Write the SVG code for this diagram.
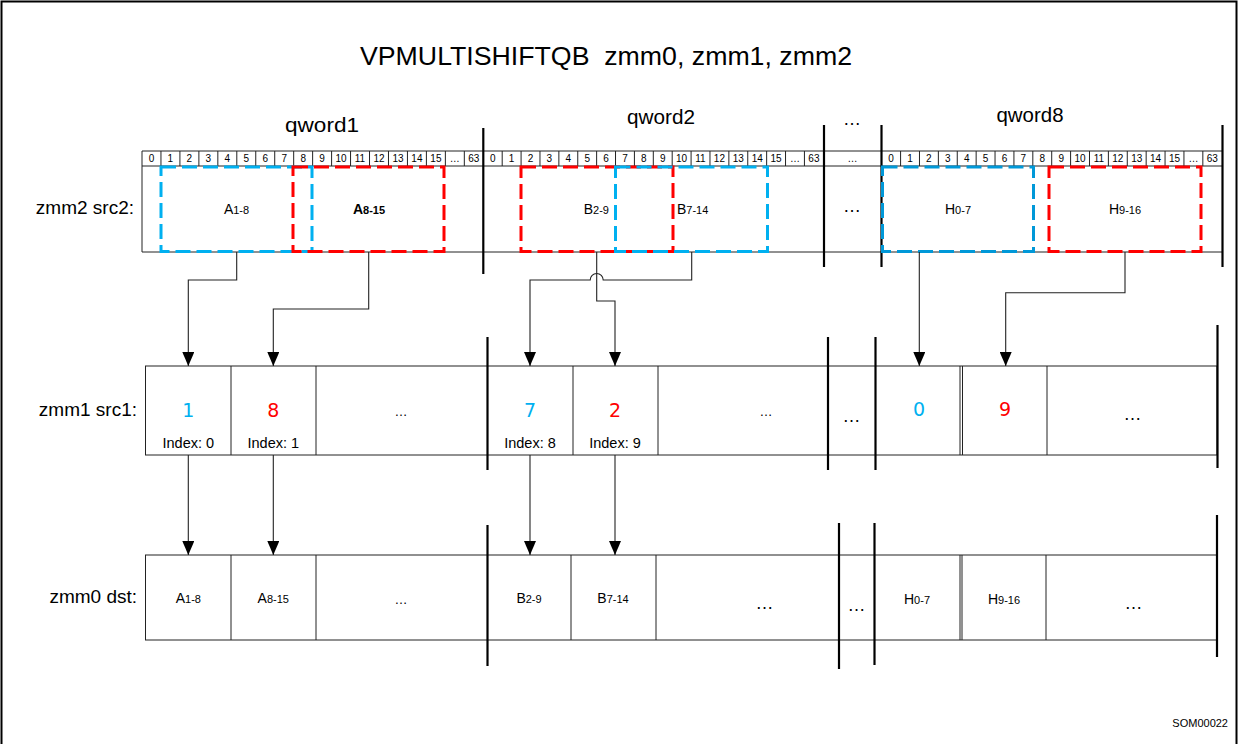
<svg xmlns="http://www.w3.org/2000/svg" width="1238" height="744" viewBox="0 0 1238 744">
<style>
  text { font-family: "Liberation Sans", Arial, sans-serif; fill: #000; }
  .bit { font-size: 10px; text-anchor: middle; }
  .reg { font-size: 19px; text-anchor: end; }
  .lbl { font-size: 14px; text-anchor: middle; }
  .sub { font-size: 11px; }
  .num { font-family: "DejaVu Sans", sans-serif; font-size: 19px; text-anchor: middle; }
  .idx { font-size: 14.5px; text-anchor: middle; }
  .dots { font-size: 13px; text-anchor: middle; }
  .bigdots { font-size: 18px; text-anchor: middle; letter-spacing: 1px; }
  .thin { stroke: #222; stroke-width: 1; fill: none; }
  .thick { stroke: #000; stroke-width: 2.2; fill: none; }
  .blue { stroke: #00B0F0; stroke-width: 3; fill: none; stroke-dasharray: 15 6; }
  .blue8 { stroke: #0098D8; stroke-width: 3; fill: none; stroke-dasharray: 15 6; }
  .red { stroke: #FF0000; stroke-width: 3; fill: none; stroke-dasharray: 15 6; }
  .conn { stroke: #222; stroke-width: 1.1; fill: none; marker-end: url(#arr); }
</style>
<defs>
  <marker id="arr" markerUnits="userSpaceOnUse" markerWidth="12" markerHeight="14" viewBox="0 0 12 14" refX="6" refY="14" orient="0">
    <path d="M0 0 L12 0 L6 14 Z" fill="#000"/>
  </marker>
</defs>
<rect x="0" y="0" width="1238" height="744" fill="#fff"/>
<rect x="1.5" y="1.5" width="1235" height="760" fill="none" stroke="#000" stroke-width="2"/>

<g id="title">
  <text x="606" y="65" font-size="26" text-anchor="middle" textLength="492" lengthAdjust="spacingAndGlyphs" xml:space="preserve" style="white-space:pre">VPMULTISHIFTQB  zmm0, zmm1, zmm2</text>
  <text x="322" y="132" font-size="20" text-anchor="middle" textLength="74" lengthAdjust="spacingAndGlyphs">qword1</text>
  <text x="661" y="124" font-size="20" text-anchor="middle" textLength="68" lengthAdjust="spacingAndGlyphs">qword2</text>
  <text x="852" y="125" font-size="18" text-anchor="middle">…</text>
  <text x="1030" y="122" font-size="20" text-anchor="middle" textLength="67" lengthAdjust="spacingAndGlyphs">qword8</text>
</g>

<g id="reg-labels">
  <text class="reg" x="134" y="214">zmm2 src2:</text>
  <text class="reg" x="137" y="416">zmm1 src1:</text>
  <text class="reg" x="137" y="603">zmm0 dst:</text>
  <text x="1228" y="727" font-size="11" text-anchor="end">SOM00022</text>
</g>

<g id="src2">
  <line class="thin" x1="142" y1="151" x2="1222" y2="151"/>
  <line class="thin" x1="142" y1="166" x2="1222" y2="166"/>
  <line class="thin" x1="142" y1="252" x2="1222" y2="252"/>
  <line class="thin" x1="142" y1="151" x2="142" y2="252"/>
  <path class="thin" d="M160.96 151V166M179.92 151V166M198.88 151V166M217.84 151V166M236.8 151V166M255.76 151V166M274.72 151V166M293.68 151V166M312.64 151V166M331.6 151V166M350.56 151V166M369.52 151V166M388.48 151V166M407.44 151V166M426.4 151V166M445.36 151V166M464.32 151V166"/>
  <path class="thin" d="M502.19 151V166M521.08 151V166M539.97 151V166M558.86 151V166M577.75 151V166M596.64 151V166M615.53 151V166M634.42 151V166M653.31 151V166M672.2 151V166M691.09 151V166M709.98 151V166M728.87 151V166M747.76 151V166M766.65 151V166M785.54 151V166M804.43 151V166"/>
  <path class="thin" d="M900.59 151V166M919.48 151V166M938.37 151V166M957.26 151V166M976.15 151V166M995.04 151V166M1013.93 151V166M1032.82 151V166M1051.71 151V166M1070.6 151V166M1089.49 151V166M1108.38 151V166M1127.27 151V166M1146.16 151V166M1165.05 151V166M1183.94 151V166M1202.83 151V166"/>
  <g id="bits-q1">
    <text class="bit" x="151.5" y="162">0</text><text class="bit" x="170.4" y="162">1</text><text class="bit" x="189.4" y="162">2</text><text class="bit" x="208.4" y="162">3</text><text class="bit" x="227.3" y="162">4</text><text class="bit" x="246.3" y="162">5</text><text class="bit" x="265.2" y="162">6</text><text class="bit" x="284.2" y="162">7</text><text class="bit" x="303.2" y="162">8</text><text class="bit" x="322.1" y="162">9</text><text class="bit" x="341.1" y="162">10</text><text class="bit" x="360" y="162">11</text><text class="bit" x="379" y="162">12</text><text class="bit" x="398" y="162">13</text><text class="bit" x="416.9" y="162">14</text><text class="bit" x="435.9" y="162">15</text><text class="bit" x="454.8" y="162">…</text><text class="bit" x="473.8" y="162">63</text>
  </g>
  <g id="bits-q2">
    <text class="bit" x="492.7" y="162">0</text><text class="bit" x="511.6" y="162">1</text><text class="bit" x="530.5" y="162">2</text><text class="bit" x="549.4" y="162">3</text><text class="bit" x="568.3" y="162">4</text><text class="bit" x="587.2" y="162">5</text><text class="bit" x="606.1" y="162">6</text><text class="bit" x="625" y="162">7</text><text class="bit" x="643.9" y="162">8</text><text class="bit" x="662.8" y="162">9</text><text class="bit" x="681.6" y="162">10</text><text class="bit" x="700.5" y="162">11</text><text class="bit" x="719.4" y="162">12</text><text class="bit" x="738.3" y="162">13</text><text class="bit" x="757.2" y="162">14</text><text class="bit" x="776.1" y="162">15</text><text class="bit" x="795" y="162">…</text><text class="bit" x="813.9" y="162">63</text>
  </g>
  <text class="bit" x="852.5" y="162">…</text>
  <g id="bits-q8">
    <text class="bit" x="891.1" y="162">0</text><text class="bit" x="910" y="162">1</text><text class="bit" x="928.9" y="162">2</text><text class="bit" x="947.8" y="162">3</text><text class="bit" x="966.7" y="162">4</text><text class="bit" x="985.6" y="162">5</text><text class="bit" x="1004.5" y="162">6</text><text class="bit" x="1023.4" y="162">7</text><text class="bit" x="1042.3" y="162">8</text><text class="bit" x="1061.2" y="162">9</text><text class="bit" x="1080" y="162">10</text><text class="bit" x="1098.9" y="162">11</text><text class="bit" x="1117.8" y="162">12</text><text class="bit" x="1136.7" y="162">13</text><text class="bit" x="1155.6" y="162">14</text><text class="bit" x="1174.5" y="162">15</text><text class="bit" x="1193.4" y="162">…</text><text class="bit" x="1212.3" y="162">63</text>
  </g>
  <text class="bigdots" x="852.5" y="212">…</text>
  <line class="thick" x1="483.3" y1="128" x2="483.3" y2="274"/>
  <line class="thick" x1="824" y1="125" x2="824" y2="267"/>
  <line class="thick" x1="881.5" y1="125" x2="881.5" y2="267"/>
  <line class="thick" x1="1222.5" y1="125" x2="1222.5" y2="267"/>
</g>

<g id="src2-fields">
  <rect class="blue" x="161" y="167" width="151" height="84.5"/>
  <rect class="red" x="293" y="167" width="151" height="84.5"/>
  <rect class="red" x="521" y="167" width="152" height="84.5"/>
  <rect class="blue" x="615.5" y="167" width="152" height="84.5"/>
  <rect class="blue8" x="882.5" y="167" width="151" height="84.5"/>
  <rect class="red" x="1049" y="167" width="152" height="84.5"/>
  <text class="lbl" x="236.5" y="214">A<tspan class="sub">1-8</tspan></text>
  <text class="lbl" x="369" y="214" font-weight="bold">A<tspan class="sub">8-15</tspan></text>
  <text class="lbl" x="609" y="214" style="text-anchor:end">B<tspan class="sub">2-9</tspan></text>
  <text class="lbl" x="677" y="214" style="text-anchor:start">B<tspan class="sub">7-14</tspan></text>
  <text class="lbl" x="958" y="214">H<tspan class="sub">0-7</tspan></text>
  <text class="lbl" x="1125" y="214">H<tspan class="sub">9-16</tspan></text>
</g>

<g id="src1">
  <rect class="thin" x="145.5" y="366" width="1071.5" height="89"/>
  <path class="thin" d="M231 366V455M316 366V455M573 366V455M658 366V455M960 366V455M962.5 366V455M1047 366V455"/>
  <line class="thick" x1="487.5" y1="337" x2="487.5" y2="470"/>
  <line class="thick" x1="828" y1="337" x2="828" y2="470"/>
  <line class="thick" x1="875.5" y1="337" x2="875.5" y2="470"/>
  <line class="thick" x1="1217.5" y1="325" x2="1217.5" y2="468"/>
  <text class="num" x="188.3" y="417" style="fill:#00B0F0">1</text>
  <text class="num" x="273.3" y="417" style="fill:#FF0000">8</text>
  <text class="num" x="530" y="417" style="fill:#00B0F0">7</text>
  <text class="num" x="615" y="417" style="fill:#FF0000">2</text>
  <text class="num" x="919" y="416" style="fill:#00B0F0">0</text>
  <text class="num" x="1005" y="416" style="fill:#FF0000">9</text>
  <text class="idx" x="188.3" y="448">Index: 0</text>
  <text class="idx" x="273.3" y="448">Index: 1</text>
  <text class="idx" x="530" y="448">Index: 8</text>
  <text class="idx" x="615" y="448">Index: 9</text>
  <text class="dots" x="401" y="416">…</text>
  <text class="dots" x="766" y="416">…</text>
  <text class="bigdots" x="852" y="422">…</text>
  <text class="bigdots" x="1133" y="420">…</text>
</g>

<g id="dst">
  <rect class="thin" x="145.5" y="555" width="1071.5" height="85"/>
  <path class="thin" d="M231 555V640M316 555V640M571 555V640M656 555V640M960 555V640M962 555V640M1046 555V640"/>
  <line class="thick" x1="487.5" y1="525" x2="487.5" y2="666"/>
  <line class="thick" x1="839" y1="523" x2="839" y2="669"/>
  <line class="thick" x1="874.5" y1="523" x2="874.5" y2="665"/>
  <line class="thick" x1="1217" y1="515" x2="1217" y2="657"/>
  <text class="lbl" x="188.3" y="603">A<tspan class="sub">1-8</tspan></text>
  <text class="lbl" x="273.3" y="603">A<tspan class="sub">8-15</tspan></text>
  <text class="dots" x="401" y="604">…</text>
  <text class="lbl" x="529" y="603">B<tspan class="sub">2-9</tspan></text>
  <text class="lbl" x="613" y="603">B<tspan class="sub">7-14</tspan></text>
  <text class="bigdots" x="765" y="609">…</text>
  <text class="bigdots" x="857" y="611">…</text>
  <text class="lbl" x="917" y="604">H<tspan class="sub">0-7</tspan></text>
  <text class="lbl" x="1004" y="604">H<tspan class="sub">9-16</tspan></text>
  <text class="bigdots" x="1134" y="609">…</text>
</g>

<g id="connectors">
  <path class="conn" d="M236.7 252V280H188.3V366"/>
  <path class="conn" d="M368.7 252V309H273.3V366"/>
  <path class="conn" d="M596.7 252V301H615V366"/>
  <path class="conn" d="M691.7 252V280H603.2A6.5 6.5 0 0 0 590.2 280H530V366"/>
  <path class="conn" d="M919.3 252V366"/>
  <path class="conn" d="M1125 252V292.7H1005.7V366"/>
  <path class="conn" d="M188.3 455V555"/>
  <path class="conn" d="M273.3 455V555"/>
  <path class="conn" d="M530 455V555"/>
  <path class="conn" d="M615 455V555"/>
</g>
</svg>
